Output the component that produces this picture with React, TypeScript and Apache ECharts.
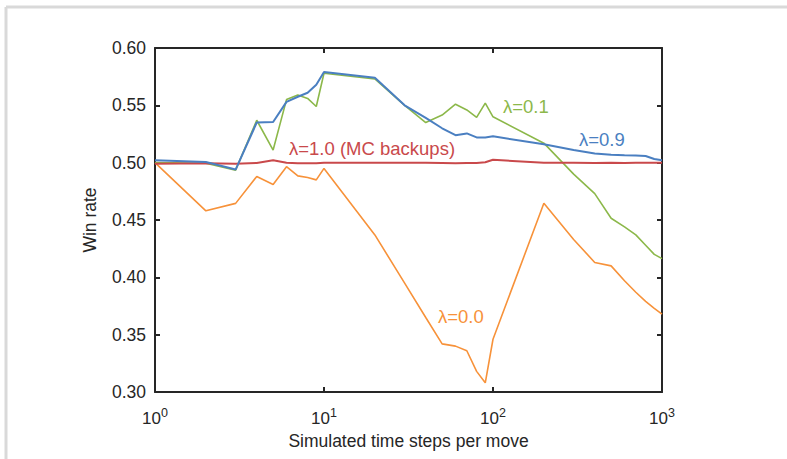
import React, { useEffect, useRef } from "react";
import * as echarts from "echarts";

const steps = [1, 2, 3, 4, 5, 6, 7, 8, 9, 10, 20, 30, 40, 50, 60, 70, 80, 90, 100, 200, 300, 400, 500, 600, 700, 800, 900, 1000];
const lambda09 = [0.502, 0.5005, 0.494, 0.535, 0.5355, 0.553, 0.5575, 0.561, 0.568, 0.579, 0.574, 0.55, 0.539, 0.53, 0.524, 0.5255, 0.522, 0.522, 0.523, 0.516, 0.511, 0.508, 0.507, 0.5065, 0.5062, 0.5058, 0.5032, 0.5022];
const lambda01 = [0.5, 0.4995, 0.4935, 0.537, 0.511, 0.555, 0.559, 0.556, 0.549, 0.578, 0.573, 0.55, 0.535, 0.5415, 0.551, 0.546, 0.5395, 0.552, 0.54, 0.517, 0.49, 0.473, 0.4515, 0.444, 0.437, 0.428, 0.42, 0.4163];
const lambda00 = [0.5, 0.458, 0.4645, 0.488, 0.481, 0.4965, 0.4885, 0.487, 0.485, 0.495, 0.437, 0.395, 0.365, 0.342, 0.34, 0.336, 0.318, 0.308, 0.346, 0.4646, 0.433, 0.413, 0.41, 0.397, 0.387, 0.379, 0.373, 0.368];
const lambda10 = [0.499, 0.4995, 0.499, 0.4998, 0.5022, 0.5, 0.4995, 0.4995, 0.4995, 0.5, 0.5, 0.5, 0.5, 0.4998, 0.4995, 0.4998, 0.4998, 0.5003, 0.5025, 0.5, 0.5, 0.4998, 0.5, 0.4998, 0.4999, 0.5, 0.5, 0.5];

const seriesNames = ["λ=0.0", "λ=0.1", "λ=0.9", "λ=1.0 (MC backups)"];
const seriesColors = ["#f7923a", "#8cb84a", "#4a7fc1", "#c9494b"];

const FONT = "'Liberation Sans', Arial, Helvetica, sans-serif";
const AXIS_COLOR = "#262626";

export default function App() {
  const ref = useRef<HTMLDivElement>(null);
  useEffect(() => {
    document.body.style.margin = "0";
    const chart = echarts.init(ref.current!, null, { renderer: "svg" });
    const pairs = (ys: number[]) => steps.map((x, i) => [x, ys[i]]);
    const allData = [lambda00, lambda01, lambda09, lambda10];
    const axisCommonX = {
      type: "log" as const,
      logBase: 10,
      min: 1,
      max: 1000,
      splitLine: { show: false },
      minorTick: { show: false },
      axisLine: { show: true, lineStyle: { color: AXIS_COLOR, width: 2 } },
      axisTick: { show: true, inside: true, length: 5, lineStyle: { color: AXIS_COLOR, width: 2 } },
    };
    const axisCommonY = {
      type: "value" as const,
      min: 0.3,
      max: 0.6,
      interval: 0.05,
      splitLine: { show: false },
      axisLine: { show: true, lineStyle: { color: AXIS_COLOR, width: 2 } },
      axisTick: { show: true, inside: true, length: 5, lineStyle: { color: AXIS_COLOR, width: 2 } },
    };
    chart.setOption({
      animation: false,
      backgroundColor: "#ffffff",
      textStyle: { fontFamily: FONT },
      grid: { left: 155, right: 125, top: 48, bottom: 67 },
      xAxis: [
        {
          ...axisCommonX,
          position: "bottom",
          name: "Simulated time steps per move",
          nameLocation: "middle",
          nameGap: 40,
          nameTextStyle: { fontSize: 17.5, color: AXIS_COLOR, fontFamily: FONT },
          axisLabel: {
            margin: 14,
            color: AXIS_COLOR,
            fontSize: 17,
            fontFamily: FONT,
            formatter: (v: number) => "10{sup|" + Math.round(Math.log10(v)) + "}",
            rich: {
              sup: { fontSize: 12.5, color: AXIS_COLOR, fontFamily: FONT, padding: [0, 0, 11, 0] },
            },
          },
        },
        {
          ...axisCommonX,
          position: "top",
          axisLabel: { show: false },
        },
      ],
      yAxis: [
        {
          ...axisCommonY,
          position: "left",
          name: "Win rate",
          nameLocation: "middle",
          nameGap: 56,
          nameTextStyle: { fontSize: 17.5, color: AXIS_COLOR, fontFamily: FONT },
          axisLabel: {
            margin: 9,
            color: AXIS_COLOR,
            fontSize: 17.5,
            fontFamily: FONT,
            formatter: (v: number) => v.toFixed(2),
          },
        },
        {
          ...axisCommonY,
          position: "right",
          axisLabel: { show: false },
        },
      ],
      series: allData.map((ys, i) => ({
        name: seriesNames[i],
        type: "line",
        xAxisIndex: 0,
        yAxisIndex: 0,
        data: pairs(ys),
        showSymbol: false,
        symbol: "none",
        z: i === 3 ? 3 : i === 2 ? 4 : 2,
        lineStyle: { color: seriesColors[i], width: i >= 2 ? 2 : 1.6 },
        itemStyle: { color: seriesColors[i] },
      })),
      graphic: [
        { type: "line", shape: { x1: 6, y1: 7, x2: 787, y2: 7 }, style: { stroke: "#d9d9d9", lineWidth: 3 } },
        { type: "line", shape: { x1: 6, y1: 7, x2: 6, y2: 459 }, style: { stroke: "#d9d9d9", lineWidth: 3 } },
        { type: "text", left: 503, top: 97, style: { text: seriesNames[1], fill: seriesColors[1], fontSize: 18.5, fontFamily: FONT } },
        { type: "text", left: 579, top: 130, style: { text: seriesNames[2], fill: seriesColors[2], fontSize: 18.5, fontFamily: FONT } },
        { type: "text", left: 289, top: 139, style: { text: seriesNames[3], fill: seriesColors[3], fontSize: 18.5, fontFamily: FONT } },
        { type: "text", left: 438, top: 307, style: { text: seriesNames[0], fill: seriesColors[0], fontSize: 18.5, fontFamily: FONT } },
      ],
    });
    return () => chart.dispose();
  }, []);
  return <div ref={ref} style={{ width: 787, height: 459 }} />;
}
